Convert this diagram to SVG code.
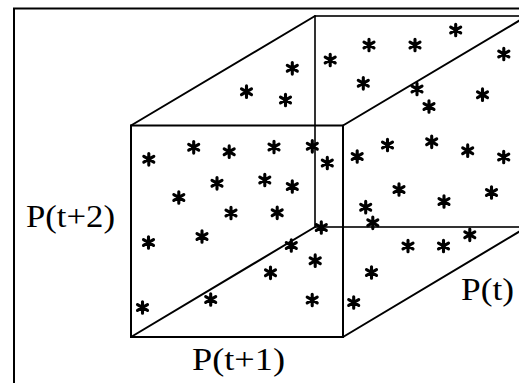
<svg xmlns="http://www.w3.org/2000/svg" xmlns:xlink="http://www.w3.org/1999/xlink" width="519" height="383" viewBox="0 0 519 383">
<style>
.frame{fill:none;stroke:#000;stroke-width:2}
.edge{fill:none;stroke:#000;stroke-width:2;stroke-linecap:round}
.hid{fill:none;stroke:#000;stroke-width:1.6}
.lbl{font-family:"Liberation Serif","Times New Roman",serif;font-size:31px;fill:#000}
</style>
<defs>
<g id="ast">
<path d="M0,-5.8V5.8M-5,-2.9L5,2.9M-5,2.9L5,-2.9" stroke="#000" stroke-width="3.1" stroke-linecap="round" fill="none"/>
<circle r="2.4" fill="#000"/>
</g>
</defs>
<rect width="519" height="383" fill="#fff"/>
<rect class="frame" x="14" y="8.5" width="600" height="500"/>
<g id="connectors">
<rect id="back-face" class="hid" x="315" y="16" width="212" height="211"/>
<rect id="front-face" class="edge" x="131" y="125.5" width="212" height="211.5"/>
<line class="edge" x1="131" y1="125.5" x2="315" y2="16"/>
<line class="edge" x1="343" y1="125.5" x2="527" y2="16"/>
<line class="edge" x1="131" y1="337" x2="315" y2="227"/>
<line class="edge" x1="343" y1="337" x2="527" y2="227"/>
</g>
<g id="points">
<use xlink:href="#ast" x="246.5" y="91.7"/>
<use xlink:href="#ast" x="292.3" y="68.3"/>
<use xlink:href="#ast" x="285.5" y="100"/>
<use xlink:href="#ast" x="330.2" y="60"/>
<use xlink:href="#ast" x="369" y="45"/>
<use xlink:href="#ast" x="363.3" y="83.3"/>
<use xlink:href="#ast" x="415" y="45"/>
<use xlink:href="#ast" x="455.7" y="30"/>
<use xlink:href="#ast" x="503.8" y="54"/>
<use xlink:href="#ast" x="417" y="89"/>
<use xlink:href="#ast" x="429" y="106.5"/>
<use xlink:href="#ast" x="482.5" y="94.7"/>
<use xlink:href="#ast" x="148.8" y="159.3"/>
<use xlink:href="#ast" x="193.7" y="147.3"/>
<use xlink:href="#ast" x="229.2" y="151.7"/>
<use xlink:href="#ast" x="274" y="147"/>
<use xlink:href="#ast" x="312.3" y="146.3"/>
<use xlink:href="#ast" x="327.3" y="163"/>
<use xlink:href="#ast" x="357.2" y="156.5"/>
<use xlink:href="#ast" x="387.5" y="145"/>
<use xlink:href="#ast" x="431.7" y="141.8"/>
<use xlink:href="#ast" x="467.7" y="150.7"/>
<use xlink:href="#ast" x="503.7" y="157"/>
<use xlink:href="#ast" x="217" y="183.3"/>
<use xlink:href="#ast" x="178.8" y="197.5"/>
<use xlink:href="#ast" x="231" y="213"/>
<use xlink:href="#ast" x="148.5" y="242.5"/>
<use xlink:href="#ast" x="202" y="236.5"/>
<use xlink:href="#ast" x="142.5" y="307.5"/>
<use xlink:href="#ast" x="210.7" y="299.5"/>
<use xlink:href="#ast" x="264.8" y="180"/>
<use xlink:href="#ast" x="292.3" y="186.5"/>
<use xlink:href="#ast" x="277.2" y="212.8"/>
<use xlink:href="#ast" x="321.3" y="227.5"/>
<use xlink:href="#ast" x="291.3" y="245.5"/>
<use xlink:href="#ast" x="315.2" y="260.7"/>
<use xlink:href="#ast" x="270.5" y="272.8"/>
<use xlink:href="#ast" x="312.2" y="300"/>
<use xlink:href="#ast" x="365.7" y="207.2"/>
<use xlink:href="#ast" x="372.8" y="222.8"/>
<use xlink:href="#ast" x="371.5" y="272.5"/>
<use xlink:href="#ast" x="353.7" y="302.5"/>
<use xlink:href="#ast" x="399" y="189.5"/>
<use xlink:href="#ast" x="444" y="201.5"/>
<use xlink:href="#ast" x="491.5" y="192.5"/>
<use xlink:href="#ast" x="408" y="246"/>
<use xlink:href="#ast" x="443.5" y="246"/>
<use xlink:href="#ast" x="469.8" y="234.8"/>
</g>
<g id="label-pt2"><text class="lbl" x="26" y="227" textLength="89" lengthAdjust="spacingAndGlyphs">P(t+2)</text></g>
<g id="label-pt1"><text class="lbl" x="192" y="370" textLength="93" lengthAdjust="spacingAndGlyphs">P(t+1)</text></g>
<g id="label-pt"><text class="lbl" x="461" y="300" textLength="53" lengthAdjust="spacingAndGlyphs">P(t)</text></g>
</svg>
